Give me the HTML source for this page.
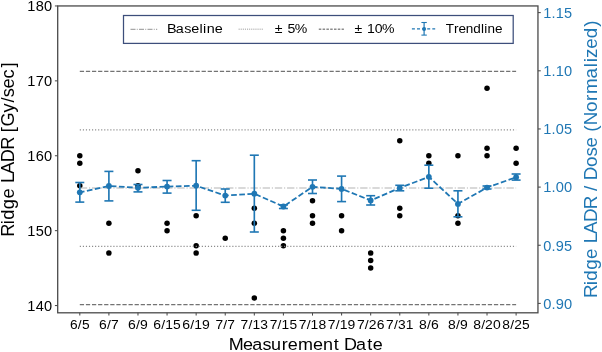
<!DOCTYPE html>
<html><head><meta charset="utf-8"><style>html,body{margin:0;padding:0;background:#fff;overflow:hidden}svg{display:block} svg{will-change:transform}</style></head>
<body>
<svg width="602" height="352" viewBox="0 0 602 352" style="font-family:&quot;Liberation Sans&quot;, sans-serif">
<rect width="602" height="352" fill="#fff"/>
<circle cx="79.80" cy="155.75" r="2.75" fill="#000"/>
<circle cx="79.80" cy="163.24" r="2.75" fill="#000"/>
<circle cx="79.80" cy="185.71" r="2.75" fill="#000"/>
<circle cx="108.89" cy="223.16" r="2.75" fill="#000"/>
<circle cx="108.89" cy="253.12" r="2.75" fill="#000"/>
<circle cx="137.97" cy="170.73" r="2.75" fill="#000"/>
<circle cx="137.97" cy="185.71" r="2.75" fill="#000"/>
<circle cx="167.06" cy="223.16" r="2.75" fill="#000"/>
<circle cx="167.06" cy="230.65" r="2.75" fill="#000"/>
<circle cx="196.15" cy="215.67" r="2.75" fill="#000"/>
<circle cx="196.15" cy="245.63" r="2.75" fill="#000"/>
<circle cx="196.15" cy="253.12" r="2.75" fill="#000"/>
<circle cx="225.24" cy="238.14" r="2.75" fill="#000"/>
<circle cx="254.32" cy="208.18" r="2.75" fill="#000"/>
<circle cx="254.32" cy="223.16" r="2.75" fill="#000"/>
<circle cx="254.32" cy="298.06" r="2.75" fill="#000"/>
<circle cx="283.41" cy="230.65" r="2.75" fill="#000"/>
<circle cx="283.41" cy="238.14" r="2.75" fill="#000"/>
<circle cx="283.41" cy="245.63" r="2.75" fill="#000"/>
<circle cx="312.50" cy="200.69" r="2.75" fill="#000"/>
<circle cx="312.50" cy="215.67" r="2.75" fill="#000"/>
<circle cx="312.50" cy="223.16" r="2.75" fill="#000"/>
<circle cx="341.58" cy="215.67" r="2.75" fill="#000"/>
<circle cx="341.58" cy="230.65" r="2.75" fill="#000"/>
<circle cx="370.67" cy="253.12" r="2.75" fill="#000"/>
<circle cx="370.67" cy="260.61" r="2.75" fill="#000"/>
<circle cx="370.67" cy="268.10" r="2.75" fill="#000"/>
<circle cx="399.76" cy="140.77" r="2.75" fill="#000"/>
<circle cx="399.76" cy="208.18" r="2.75" fill="#000"/>
<circle cx="399.76" cy="215.67" r="2.75" fill="#000"/>
<circle cx="428.84" cy="155.75" r="2.75" fill="#000"/>
<circle cx="428.84" cy="163.24" r="2.75" fill="#000"/>
<circle cx="457.93" cy="155.75" r="2.75" fill="#000"/>
<circle cx="457.93" cy="215.67" r="2.75" fill="#000"/>
<circle cx="457.93" cy="223.16" r="2.75" fill="#000"/>
<circle cx="487.02" cy="88.34" r="2.75" fill="#000"/>
<circle cx="487.02" cy="148.26" r="2.75" fill="#000"/>
<circle cx="487.02" cy="155.75" r="2.75" fill="#000"/>
<circle cx="516.11" cy="148.26" r="2.75" fill="#000"/>
<circle cx="516.11" cy="163.24" r="2.75" fill="#000"/>
<line x1="79.80" x2="516.11" y1="71.4" y2="71.4" stroke="#737373" stroke-width="1.3" stroke-dasharray="4.25 1.84"/>
<line x1="79.80" x2="516.11" y1="304.7" y2="304.7" stroke="#737373" stroke-width="1.3" stroke-dasharray="4.25 1.84"/>
<line x1="79.80" x2="516.11" y1="129.9" y2="129.9" stroke="#8c8c8c" stroke-width="1.15" stroke-dasharray="1.15 1.9"/>
<line x1="79.80" x2="516.11" y1="246.3" y2="246.3" stroke="#8c8c8c" stroke-width="1.15" stroke-dasharray="1.15 1.9"/>
<line x1="79.80" x2="516.11" y1="188.0" y2="188.0" stroke="#b3b3b3" stroke-width="1.1" stroke-dasharray="7.36 1.84 1.15 1.84"/>
<polyline points="79.80,192.30 108.89,186.00 137.97,187.80 167.06,186.60 196.15,185.70 225.24,195.60 254.32,193.70 283.41,206.50 312.50,186.80 341.58,188.90 370.67,200.40 399.76,188.00 428.84,176.80 457.93,203.90 487.02,187.60 516.11,177.20" fill="none" stroke="#1f77b4" stroke-width="1.8" stroke-dasharray="5.68 2.46" stroke-dashoffset="0.9"/>
<line x1="79.80" x2="79.80" y1="182.5" y2="202.1" stroke="#1f77b4" stroke-width="1.65"/>
<line x1="75.30" x2="84.30" y1="182.5" y2="182.5" stroke="#1f77b4" stroke-width="1.6"/>
<line x1="75.30" x2="84.30" y1="202.1" y2="202.1" stroke="#1f77b4" stroke-width="1.6"/>
<circle cx="79.80" cy="192.3" r="2.9" fill="#1f77b4"/>
<line x1="108.89" x2="108.89" y1="171.4" y2="200.9" stroke="#1f77b4" stroke-width="1.65"/>
<line x1="104.39" x2="113.39" y1="171.4" y2="171.4" stroke="#1f77b4" stroke-width="1.6"/>
<line x1="104.39" x2="113.39" y1="200.9" y2="200.9" stroke="#1f77b4" stroke-width="1.6"/>
<circle cx="108.89" cy="186.0" r="2.9" fill="#1f77b4"/>
<line x1="137.97" x2="137.97" y1="184.5" y2="191.9" stroke="#1f77b4" stroke-width="1.65"/>
<line x1="133.47" x2="142.47" y1="184.5" y2="184.5" stroke="#1f77b4" stroke-width="1.6"/>
<line x1="133.47" x2="142.47" y1="191.9" y2="191.9" stroke="#1f77b4" stroke-width="1.6"/>
<circle cx="137.97" cy="187.8" r="2.9" fill="#1f77b4"/>
<line x1="167.06" x2="167.06" y1="180.5" y2="193.1" stroke="#1f77b4" stroke-width="1.65"/>
<line x1="162.56" x2="171.56" y1="180.5" y2="180.5" stroke="#1f77b4" stroke-width="1.6"/>
<line x1="162.56" x2="171.56" y1="193.1" y2="193.1" stroke="#1f77b4" stroke-width="1.6"/>
<circle cx="167.06" cy="186.6" r="2.9" fill="#1f77b4"/>
<line x1="196.15" x2="196.15" y1="160.7" y2="210.3" stroke="#1f77b4" stroke-width="1.65"/>
<line x1="191.65" x2="200.65" y1="160.7" y2="160.7" stroke="#1f77b4" stroke-width="1.6"/>
<line x1="191.65" x2="200.65" y1="210.3" y2="210.3" stroke="#1f77b4" stroke-width="1.6"/>
<circle cx="196.15" cy="185.7" r="2.9" fill="#1f77b4"/>
<line x1="225.24" x2="225.24" y1="189.0" y2="202.3" stroke="#1f77b4" stroke-width="1.65"/>
<line x1="220.74" x2="229.74" y1="189.0" y2="189.0" stroke="#1f77b4" stroke-width="1.6"/>
<line x1="220.74" x2="229.74" y1="202.3" y2="202.3" stroke="#1f77b4" stroke-width="1.6"/>
<circle cx="225.24" cy="195.6" r="2.9" fill="#1f77b4"/>
<line x1="254.32" x2="254.32" y1="155.2" y2="232.0" stroke="#1f77b4" stroke-width="1.65"/>
<line x1="249.82" x2="258.82" y1="155.2" y2="155.2" stroke="#1f77b4" stroke-width="1.6"/>
<line x1="249.82" x2="258.82" y1="232.0" y2="232.0" stroke="#1f77b4" stroke-width="1.6"/>
<circle cx="254.32" cy="193.7" r="2.9" fill="#1f77b4"/>
<line x1="283.41" x2="283.41" y1="205.0" y2="208.5" stroke="#1f77b4" stroke-width="1.65"/>
<line x1="278.91" x2="287.91" y1="205.0" y2="205.0" stroke="#1f77b4" stroke-width="1.6"/>
<line x1="278.91" x2="287.91" y1="208.5" y2="208.5" stroke="#1f77b4" stroke-width="1.6"/>
<circle cx="283.41" cy="206.5" r="2.9" fill="#1f77b4"/>
<line x1="312.50" x2="312.50" y1="180.0" y2="193.5" stroke="#1f77b4" stroke-width="1.65"/>
<line x1="308.00" x2="317.00" y1="180.0" y2="180.0" stroke="#1f77b4" stroke-width="1.6"/>
<line x1="308.00" x2="317.00" y1="193.5" y2="193.5" stroke="#1f77b4" stroke-width="1.6"/>
<circle cx="312.50" cy="186.8" r="2.9" fill="#1f77b4"/>
<line x1="341.58" x2="341.58" y1="176.1" y2="201.6" stroke="#1f77b4" stroke-width="1.65"/>
<line x1="337.08" x2="346.08" y1="176.1" y2="176.1" stroke="#1f77b4" stroke-width="1.6"/>
<line x1="337.08" x2="346.08" y1="201.6" y2="201.6" stroke="#1f77b4" stroke-width="1.6"/>
<circle cx="341.58" cy="188.9" r="2.9" fill="#1f77b4"/>
<line x1="370.67" x2="370.67" y1="195.7" y2="205.0" stroke="#1f77b4" stroke-width="1.65"/>
<line x1="366.17" x2="375.17" y1="195.7" y2="195.7" stroke="#1f77b4" stroke-width="1.6"/>
<line x1="366.17" x2="375.17" y1="205.0" y2="205.0" stroke="#1f77b4" stroke-width="1.6"/>
<circle cx="370.67" cy="200.4" r="2.9" fill="#1f77b4"/>
<line x1="399.76" x2="399.76" y1="185.3" y2="190.8" stroke="#1f77b4" stroke-width="1.65"/>
<line x1="395.26" x2="404.26" y1="185.3" y2="185.3" stroke="#1f77b4" stroke-width="1.6"/>
<line x1="395.26" x2="404.26" y1="190.8" y2="190.8" stroke="#1f77b4" stroke-width="1.6"/>
<circle cx="399.76" cy="188.0" r="2.9" fill="#1f77b4"/>
<line x1="428.84" x2="428.84" y1="165.2" y2="188.2" stroke="#1f77b4" stroke-width="1.65"/>
<line x1="424.34" x2="433.34" y1="165.2" y2="165.2" stroke="#1f77b4" stroke-width="1.6"/>
<line x1="424.34" x2="433.34" y1="188.2" y2="188.2" stroke="#1f77b4" stroke-width="1.6"/>
<circle cx="428.84" cy="176.8" r="2.9" fill="#1f77b4"/>
<line x1="457.93" x2="457.93" y1="190.8" y2="216.8" stroke="#1f77b4" stroke-width="1.65"/>
<line x1="453.43" x2="462.43" y1="190.8" y2="190.8" stroke="#1f77b4" stroke-width="1.6"/>
<line x1="453.43" x2="462.43" y1="216.8" y2="216.8" stroke="#1f77b4" stroke-width="1.6"/>
<circle cx="457.93" cy="203.9" r="2.9" fill="#1f77b4"/>
<line x1="487.02" x2="487.02" y1="186.0" y2="189.0" stroke="#1f77b4" stroke-width="1.65"/>
<line x1="482.52" x2="491.52" y1="186.0" y2="186.0" stroke="#1f77b4" stroke-width="1.6"/>
<line x1="482.52" x2="491.52" y1="189.0" y2="189.0" stroke="#1f77b4" stroke-width="1.6"/>
<circle cx="487.02" cy="187.6" r="2.9" fill="#1f77b4"/>
<line x1="516.11" x2="516.11" y1="174.0" y2="180.1" stroke="#1f77b4" stroke-width="1.65"/>
<line x1="511.61" x2="520.61" y1="174.0" y2="174.0" stroke="#1f77b4" stroke-width="1.6"/>
<line x1="511.61" x2="520.61" y1="180.1" y2="180.1" stroke="#1f77b4" stroke-width="1.6"/>
<circle cx="516.11" cy="177.2" r="2.9" fill="#1f77b4"/>
<rect x="57.7" y="5.95" width="480.25" height="306.85" fill="none" stroke="#4a4a4a" stroke-width="1.3"/>
<line x1="54.900000000000006" x2="57.7" y1="5.95" y2="5.95" stroke="#4a4a4a" stroke-width="1.05"/>
<line x1="54.900000000000006" x2="57.7" y1="80.85" y2="80.85" stroke="#4a4a4a" stroke-width="1.05"/>
<line x1="54.900000000000006" x2="57.7" y1="155.75" y2="155.75" stroke="#4a4a4a" stroke-width="1.05"/>
<line x1="54.900000000000006" x2="57.7" y1="230.65" y2="230.65" stroke="#4a4a4a" stroke-width="1.05"/>
<line x1="54.900000000000006" x2="57.7" y1="305.55" y2="305.55" stroke="#4a4a4a" stroke-width="1.05"/>
<line x1="537.95" x2="540.75" y1="12.60" y2="12.60" stroke="#4a4a4a" stroke-width="1.05"/>
<line x1="537.95" x2="540.75" y1="70.80" y2="70.80" stroke="#4a4a4a" stroke-width="1.05"/>
<line x1="537.95" x2="540.75" y1="128.95" y2="128.95" stroke="#4a4a4a" stroke-width="1.05"/>
<line x1="537.95" x2="540.75" y1="187.10" y2="187.10" stroke="#4a4a4a" stroke-width="1.05"/>
<line x1="537.95" x2="540.75" y1="245.25" y2="245.25" stroke="#4a4a4a" stroke-width="1.05"/>
<line x1="537.95" x2="540.75" y1="303.40" y2="303.40" stroke="#4a4a4a" stroke-width="1.05"/>
<line x1="79.80" x2="79.80" y1="312.8" y2="315.6" stroke="#4a4a4a" stroke-width="1.05"/>
<line x1="108.89" x2="108.89" y1="312.8" y2="315.6" stroke="#4a4a4a" stroke-width="1.05"/>
<line x1="137.97" x2="137.97" y1="312.8" y2="315.6" stroke="#4a4a4a" stroke-width="1.05"/>
<line x1="167.06" x2="167.06" y1="312.8" y2="315.6" stroke="#4a4a4a" stroke-width="1.05"/>
<line x1="196.15" x2="196.15" y1="312.8" y2="315.6" stroke="#4a4a4a" stroke-width="1.05"/>
<line x1="225.24" x2="225.24" y1="312.8" y2="315.6" stroke="#4a4a4a" stroke-width="1.05"/>
<line x1="254.32" x2="254.32" y1="312.8" y2="315.6" stroke="#4a4a4a" stroke-width="1.05"/>
<line x1="283.41" x2="283.41" y1="312.8" y2="315.6" stroke="#4a4a4a" stroke-width="1.05"/>
<line x1="312.50" x2="312.50" y1="312.8" y2="315.6" stroke="#4a4a4a" stroke-width="1.05"/>
<line x1="341.58" x2="341.58" y1="312.8" y2="315.6" stroke="#4a4a4a" stroke-width="1.05"/>
<line x1="370.67" x2="370.67" y1="312.8" y2="315.6" stroke="#4a4a4a" stroke-width="1.05"/>
<line x1="399.76" x2="399.76" y1="312.8" y2="315.6" stroke="#4a4a4a" stroke-width="1.05"/>
<line x1="428.84" x2="428.84" y1="312.8" y2="315.6" stroke="#4a4a4a" stroke-width="1.05"/>
<line x1="457.93" x2="457.93" y1="312.8" y2="315.6" stroke="#4a4a4a" stroke-width="1.05"/>
<line x1="487.02" x2="487.02" y1="312.8" y2="315.6" stroke="#4a4a4a" stroke-width="1.05"/>
<line x1="516.11" x2="516.11" y1="312.8" y2="315.6" stroke="#4a4a4a" stroke-width="1.05"/>
<text transform="translate(0,10.90) scale(1.0305,1)" x="26.48 34.64 42.73" font-size="14.18" fill="#000">180</text>
<text transform="translate(0,85.80) scale(1.0305,1)" x="26.48 34.62 42.73" font-size="14.18" fill="#000">170</text>
<text transform="translate(0,160.70) scale(1.0305,1)" x="26.48 34.64 42.73" font-size="14.18" fill="#000">160</text>
<text transform="translate(0,235.60) scale(1.0305,1)" x="26.48 34.60 42.73" font-size="14.18" fill="#000">150</text>
<text transform="translate(0,310.50) scale(1.0305,1)" x="26.48 34.65 42.73" font-size="14.18" fill="#000">140</text>
<text transform="translate(0,17.85) scale(1.0256,1)" x="529.64 537.78 541.82 549.98" font-size="14.18" fill="#1f77b4">1.15</text>
<text transform="translate(0,76.05) scale(1.0346,1)" x="525.02 533.11 537.10 545.23" font-size="14.18" fill="#1f77b4">1.10</text>
<text transform="translate(0,134.20) scale(1.0256,1)" x="529.64 537.78 541.90 549.98" font-size="14.18" fill="#1f77b4">1.05</text>
<text transform="translate(0,192.35) scale(1.0346,1)" x="525.02 533.11 537.18 545.23" font-size="14.18" fill="#1f77b4">1.00</text>
<text transform="translate(0,250.50) scale(1.0270,1)" x="529.01 537.06 541.14 549.24" font-size="14.18" fill="#1f77b4">0.95</text>
<text transform="translate(0,308.65) scale(1.0357,1)" x="524.49 532.50 536.52 544.61" font-size="14.18" fill="#1f77b4">0.90</text>
<text transform="translate(0,328.50) scale(1.0449,1)" x="66.97 74.54 78.39" font-size="13.18" fill="#000">6/5</text>
<text transform="translate(0,328.50) scale(1.0530,1)" x="94.05 101.57 105.40" font-size="13.18" fill="#000">6/7</text>
<text transform="translate(0,328.50) scale(1.0616,1)" x="120.66 128.14 131.90" font-size="13.18" fill="#000">6/9</text>
<text transform="translate(0,328.50) scale(1.0518,1)" x="145.75 153.28 157.06 164.53" font-size="13.18" fill="#000">6/15</text>
<text transform="translate(0,328.50) scale(1.0635,1)" x="171.46 178.93 182.64 190.04" font-size="13.18" fill="#000">6/19</text>
<text transform="translate(0,328.50) scale(1.0446,1)" x="206.20 213.79 217.66" font-size="13.18" fill="#000">7/7</text>
<text transform="translate(0,328.50) scale(1.0507,1)" x="228.93 236.49 240.27 247.81" font-size="13.18" fill="#000">7/13</text>
<text transform="translate(0,328.50) scale(1.0459,1)" x="257.81 265.39 269.20 276.71" font-size="13.18" fill="#000">7/15</text>
<text transform="translate(0,328.50) scale(1.0564,1)" x="282.76 290.29 294.04 301.53" font-size="13.18" fill="#000">7/18</text>
<text transform="translate(0,328.50) scale(1.0576,1)" x="309.93 317.45 321.19 328.63" font-size="13.18" fill="#000">7/19</text>
<text transform="translate(0,328.50) scale(1.0594,1)" x="336.87 344.38 348.04 355.58" font-size="13.18" fill="#000">7/26</text>
<text transform="translate(0,328.50) scale(1.0473,1)" x="368.55 376.12 380.02 387.40" font-size="13.18" fill="#000">7/31</text>
<text transform="translate(0,328.50) scale(1.0595,1)" x="395.45 402.94 406.75" font-size="13.18" fill="#000">8/6</text>
<text transform="translate(0,328.50) scale(1.0570,1)" x="423.91 431.40 435.19" font-size="13.18" fill="#000">8/9</text>
<text transform="translate(0,328.50) scale(1.0575,1)" x="447.50 455.00 458.67 466.22" font-size="13.18" fill="#000">8/20</text>
<text transform="translate(0,328.50) scale(1.0486,1)" x="479.06 486.60 490.32 497.89" font-size="13.18" fill="#000">8/25</text>
<text transform="translate(0,349.60) scale(1.0871,1)" x="210.41 223.59 232.01 241.49 249.38 259.19 264.66 274.06 288.02 297.20 306.97 312.20 316.55 327.51 337.73 342.91" font-size="16.57" fill="#000">Measurement Date</text>
<text transform="translate(13.90,234.60) rotate(-90) scale(1.0212,1)" x="-2.11 10.10 14.50 24.92 35.30 45.29 50.43 59.30 70.75 83.01 94.92 100.19 105.95 119.64 129.25 134.42 143.16 152.99 163.55" font-size="17.88" fill="#000">Ridge LADR [Gy/sec]</text>
<text transform="translate(597.00,295.80) rotate(-90) scale(1.0490,1)" x="-2.14 10.03 14.39 24.75 35.07 45.03 50.12 58.93 70.32 82.51 94.39 99.84 105.07 110.10 122.85 132.71 141.40 151.36 156.30 162.56 175.15 185.78 192.36 207.11 218.00 222.54 226.68 235.43 245.51 256.41" font-size="17.88" fill="#1f77b4">Ridge LADR / Dose (Normalized)</text>
<rect x="123.5" y="15.5" width="389.7" height="27.9" fill="#fff" stroke="#3d4e7b" stroke-width="1.25"/>
<line x1="130.5" x2="157.2" y1="29.4" y2="29.4" stroke="#a8a8a8" stroke-width="1.1" stroke-dasharray="5 1.3 0.9 1.3"/>
<line x1="238.6" x2="263.6" y1="29.2" y2="29.2" stroke="#bdbdbd" stroke-width="1.4" stroke-dasharray="1.1 1.0"/>
<line x1="318.8" x2="343.9" y1="29.2" y2="29.2" stroke="#8c8c8c" stroke-width="1.4" stroke-dasharray="2.5 1.3"/>
<line x1="411.9" x2="435.2" y1="28.9" y2="28.9" stroke="#1f77b4" stroke-width="1.3" stroke-dasharray="3 2.1"/>
<line x1="424.1" x2="424.1" y1="22.5" y2="35.1" stroke="#1f77b4" stroke-width="1.2"/>
<line x1="421.4" x2="426.8" y1="22.5" y2="22.5" stroke="#1f77b4" stroke-width="1.1"/>
<line x1="421.4" x2="426.8" y1="35.1" y2="35.1" stroke="#1f77b4" stroke-width="1.1"/>
<circle cx="424.1" cy="28.9" r="2.0" fill="#1f77b4"/>
<text transform="translate(0,33.30) scale(1.0884,1)" x="153.50 161.59 169.32 175.71 183.25 186.59 189.87 197.36" font-size="13.23" fill="#000">Baseline</text>
<text transform="translate(0,33.30) scale(1.0665,1)" x="257.66 266.02 269.48 276.29" font-size="13.23" fill="#000">± 5%</text>
<text transform="translate(0,33.30) scale(1.0625,1)" x="333.55 341.94 345.40 352.70 359.50" font-size="13.23" fill="#000">± 10%</text>
<text transform="translate(0,33.30) scale(1.0211,1)" x="436.65 444.63 448.96 456.23 463.53 471.11 474.35 477.47 484.74" font-size="13.23" fill="#000">Trendline</text>
</svg>
</body></html>
